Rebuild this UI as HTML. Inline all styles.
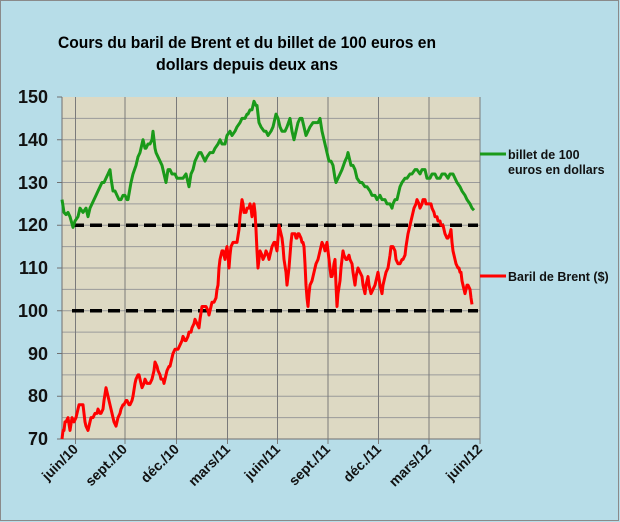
<!DOCTYPE html>
<html><head><meta charset="utf-8"><style>
html,body{margin:0;padding:0;background:#b7dde8}
svg{display:block;font-family:"Liberation Sans",Arial,sans-serif}
</style></head><body>
<svg width="620" height="522" viewBox="0 0 620 522" xmlns="http://www.w3.org/2000/svg">
<rect x="0.5" y="0.5" width="618" height="520" fill="#b7dde8" stroke="#8a8a8a"/>
<text x="247" y="48" text-anchor="middle" font-weight="bold" font-size="17" textLength="378" lengthAdjust="spacingAndGlyphs">Cours du baril de Brent et du billet de 100 euros en</text>
<text x="247" y="70" text-anchor="middle" font-weight="bold" font-size="17" textLength="182" lengthAdjust="spacingAndGlyphs">dollars depuis deux ans</text>
<rect x="62" y="97" width="418" height="342" fill="#ddd9c3"/>
<g stroke="#7a7a7a" stroke-width="1">
<path d="M62 118.4H480M62 139.8H480M62 161.1H480M62 182.5H480M62 203.9H480M62 225.3H480M62 246.6H480M62 268H480M62 289.4H480M62 310.8H480M62 332.1H480M62 353.5H480M62 374.9H480M62 396.3H480M62 417.6H480" stroke="#9a9a9a"/>
<path d="M75.5 97V444M125 97V444M176.5 97V444M227.5 97V444M277.5 97V444M328 97V444M378.5 97V444M429 97V444M480 97V444"/>
<path d="M62 97V439M57 97H62M57 139.8H62M57 182.5H62M57 225.3H62M57 268H62M57 310.8H62M57 353.5H62M57 396.3H62M57 439H480" stroke="#707070"/>
</g>
<g font-weight="bold" font-size="18" text-anchor="end" fill="#111">
<text x="48" y="103">150</text><text x="48" y="146">140</text><text x="48" y="189">130</text><text x="48" y="231">120</text><text x="48" y="274">110</text><text x="48" y="317">100</text><text x="48" y="360">90</text><text x="48" y="402">80</text><text x="48" y="445">70</text>
</g>
<g font-weight="bold" font-size="14" text-anchor="end" fill="#111">
<text transform="translate(79,450) rotate(-45)">juin/10</text>
<text transform="translate(128,450) rotate(-45)">sept./10</text>
<text transform="translate(180,450) rotate(-45)">déc./10</text>
<text transform="translate(231,450) rotate(-45)">mars/11</text>
<text transform="translate(281,450) rotate(-45)">juin/11</text>
<text transform="translate(331,450) rotate(-45)">sept./11</text>
<text transform="translate(382,450) rotate(-45)">déc./11</text>
<text transform="translate(432,450) rotate(-45)">mars/12</text>
<text transform="translate(483,450) rotate(-45)">juin/12</text>
</g>
<path d="M72 225.3H478M72 310.8H478" stroke="#000" stroke-width="3.5" stroke-dasharray="12,6"/>
<g transform="translate(0,738.25) scale(1,-4.275)" fill="none" stroke-linejoin="round">
<polyline vector-effect="non-scaling-stroke" stroke="#1a9a1a" stroke-width="3" points="62,126 64,123 66,122.5 68,123 70,122 73,119.5 75,121 78,122 80,124 83,123 86,124 88,122 90,124 92,125 94,126 96,127 98,128 100,129 102,130 104,130 106,131 108,132 110,133 111,131 113,128 115,128 117,127 119,126 121,126 123,127 125,127 127,126 128,126 131,130 133,132 136,134 138,136 140,137 142,139 143,140 145,138 146,138 148,139 150,139 152,140 153,142 155,138 156,137 158,136 160,135 162,134 163,133 165,131 166,130 168,133 170,133 172,132 175,132 177,131 180,131 183,131 186,132 188,130 189,129 191,132 193,133 195,135 197,136 199,137 201,137 203,136 205,135 207,136 210,137 213,137 215,138 218,139 220,140 222,139 225,139 227,141 230,142 232,141 235,142 237,143 240,144 242,145 245,145 247,146 248,146 250,147 252,147 254,149 256,148 257,148 259,144 261,143 264,142 266,142 268,141 271,142 273,143 275,145 276,146 278,145 280,143 282,142 285,142 287,143 290,145 292,142 294,140 296,142 298,144 300,145 302,145 304,143 306,141 308,142 310,143 313,144 316,144 318,144 320,145 322,142 324,140 326,138 328,136 329,135 331,135 333,134 335,131 336,130 338,131 340,132 342,133 345,135 347,136 348,137 350,135 351,134 353,134 355,133 357,131 360,130 362,130 365,129 367,129 370,128 372,127 375,127 377,126 380,127 382,126 385,126 387,125 390,125 392,124 393,125 395,126 397,126 399,128 400,129 402,130 405,131 407,131 410,132 412,132 415,133 417,133 420,132 422,133 425,133 427,131 430,131 432,132 435,132 437,131 440,131 442,132 445,132 448,131 450,132 453,132 455,131 457,130 460,129 462,128 465,127 467,126 470,125 472,124 474,123.5"/>
<polyline vector-effect="non-scaling-stroke" stroke="#ff0000" stroke-width="3" points="62,70 63,72 64,72 65,74 66,74 68,75 70,72 72,75 74,74 76,75 77,76 79,78 81,78 83,78 85,74 86,73 88,72 90,74 91,75 93,75 95,76 97,76 98,77 100,76 101,76 103,77 104,79 106,82 108,80 110,78 111,77 113,75 114,74 116,73 118,75 120,76 121,77 123,78 124,78 126,79 127,79 129,78 130,78 132,79 133,80 135,83 136,84 138,85 139,85 141,83 142,82 144,83 145,84 147,83 148,83 150,83 152,84 154,86 155,88 157,87 158,86 160,85 161,84 163,84 164,83 166,85 167,86 169,87 170,87 172,89 173,90 175,91 176,91 178,91 180,92 182,93 183,94 185,93 186,93 188,94 189,95 191,95 192,96 194,97 195,98 197,97 199,96 200,98 202,101 204,101 206,101 208,100 209,99 211,101 212,102 214,102 216,103 217,105 218,106 219,110 220,112 222,114 223,114 224,113 225,112 226,114 227,115 228,113 229,110 230,113 231,115 233,116 234,116 236,116 237,116 239,119 240,122 241,124 242,126 243,125 244,123 246,123 247,124 249,124 250,125 251,124 252,122 253,124 254,125 255,123 256,119 257,114 258,110 259,112 260,114 262,113 263,112 265,113 266,114 268,113 269,112 271,114 272,115 274,116 275,116 276,115 277,114 278,117 279,120 281,118 282,117 283,115 284,112 286,109 287,106 289,110 290,113 291,116 292,118 294,118 295,118 296,117 297,117 298,118 299,118 301,117 302,116 303,116 304,115 305,111 306,106 307,103 308,101 309,104 310,106 312,107 313,108 315,110 316,111 318,112 319,113 321,115 322,116 324,115 325,114 326,115 327,116 328,114 329,112 330,110 331,108 332,108 333,109 334,111 335,112 336,106 337,101 338,104 340,107 341,110 343,114 344,113 346,112 347,112 349,113 350,112 352,111 353,109 355,106 356,108 358,110 360,109 362,108 363,106 365,104 366,106 368,108 369,106 371,104 373,105 375,106 377,108 378,109 380,106 382,104 383,106 385,108 386,109 388,110 390,113 391,115 393,115 395,114 396,112 398,111 400,111 402,112 403,112 405,113 406,115 408,118 410,120 411,121 413,123 414,124 416,125 417,126 419,125 420,124 422,125 423,126 425,126 426,125 428,125 429,125 431,125 432,124 434,123 435,122 437,122 438,121 440,121 441,120 443,120 444,119 445,118 447,117 448,117 450,118 451,119 452,116 453,114 455,112 456,111 458,110 459,110 460,109 461,109 462,107 463,106 464,105 465,104 466,105 467,106 468,106 470,105 471,103 472,101.5"/>
</g>
<path d="M480 154H506" stroke="#1a9a1a" stroke-width="3"/>
<path d="M480 276H506" stroke="#ff0000" stroke-width="3"/>
<g font-weight="bold" font-size="12.5" fill="#111">
<text x="508" y="159">billet de 100</text>
<text x="508" y="174">euros en dollars</text>
<text x="508" y="281">Baril de Brent ($)</text>
</g>
</svg>
</body></html>
